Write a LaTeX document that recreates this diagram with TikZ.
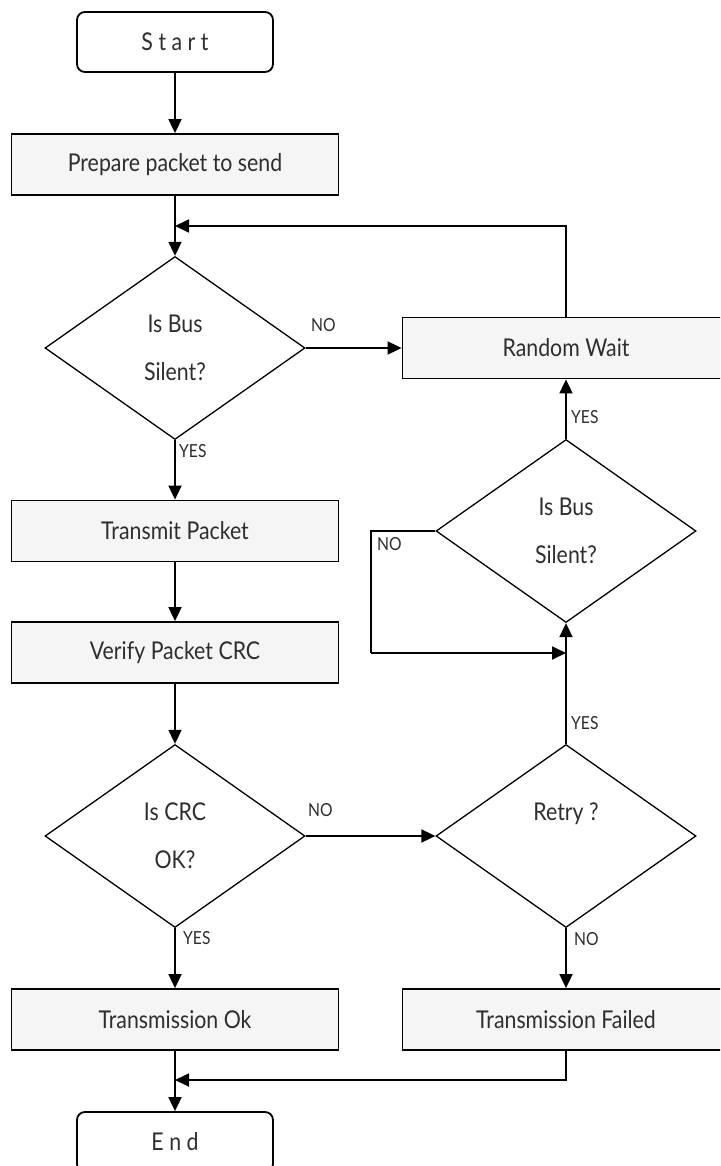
\documentclass[tikz,border=0pt]{standalone}
\usepackage{fontspec}
\setmainfont{Lato}[FakeStretch=0.87]
\usetikzlibrary{arrows.meta,shapes.geometric}
\begin{document}
\begin{tikzpicture}[x=1pt,y=-1pt,
  txt/.style={text=black!82, font=\fontsize{24.5}{48}\selectfont},
  term/.style={txt, draw, line width=1.8pt, rounded corners=8pt, minimum width=196pt, minimum height=60pt, inner sep=0pt},
  proc/.style={txt, draw, line width=1.8pt, fill=black!4, minimum width=327pt, minimum height=61pt, inner sep=0pt},
  cond/.style={txt, draw, line width=1.3pt, diamond, minimum width=260pt, minimum height=183pt, inner sep=0pt, align=center},
  flow/.style={line width=1.8pt, -{Triangle[length=14pt,width=13pt]}},
  lbl/.style={text=black!82, font=\fontsize{18}{20}\selectfont, inner sep=0pt, anchor=west}
]
\useasboundingbox (0,0) rectangle (720,1166);
\clip (0,0) rectangle (720,1166);
\fill[white] (0,0) rectangle (720,1166);

% left column
\node[term] (start) at (175,42) {S t a r t};
\node[proc] (prep) at (175,164.5) {Prepare packet to send};
\node[cond] (d1) at (175,348) {Is Bus\\Silent?};
\node[proc] (tp) at (175,531) {Transmit Packet};
\node[proc] (vp) at (175,652.5) {Verify Packet CRC};
\node[cond] (d4) at (175,836) {Is CRC\\OK?};
\node[proc] (tok) at (175,1019.5) {Transmission Ok};
\node[term] (end) at (175,1142) {E n d};

% right column
\node[proc] (rw) at (566,348) {Random Wait};
\node[cond] (d2) at (566,531) {Is Bus\\Silent?};
\node[cond] (d3) at (566,836) {Retry ?\\\mbox{}};
\node[proc] (tf) at (566,1019.5) {Transmission Failed};

% junction points of the loops
\coordinate (jtop) at (175,226);
\coordinate (jleft) at (371,653);
\coordinate (jin) at (566,653);
\coordinate (jend) at (175,1080);

% main flow
\draw[flow] (start) -- (prep);
\draw[flow] (prep) -- (d1);
\draw[flow] (d1) -- (tp);
\node[lbl] (y1) at (179,451) {YES};
\draw[flow] (tp) -- (vp);
\draw[flow] (vp) -- (d4);
\draw[flow] (d4) -- (tok);
\node[lbl] (y4) at (183,938) {YES};
\draw[flow] (tok) -- (end);

% bus busy: wait and retry
\draw[flow] (d1.east) -- (rw.west);
\node[lbl] (n1) at (311,325) {NO};
\draw[flow] (rw.north) |- (jtop);

% CRC failure branch
\draw[flow] (d4.east) -- (d3.west);
\node[lbl] (n4) at (308,810) {NO};
\draw[flow] (d3.south) -- (tf.north);
\node[lbl] (n3) at (574,939) {NO};
\draw[flow] (d3.north) -- (d2.south);
\node[lbl] (y3) at (571,723) {YES};
\draw[flow] (d2.north) -- (rw.south);
\node[lbl] (y2) at (571,417) {YES};
\draw[line width=1.8pt] (d2.west) -- (371,531) -- (jleft);
\draw[flow] (jleft) -- (jin);
\node[lbl] (n2) at (377,544) {NO};
\draw[flow] (tf.south) |- (jend);
\end{tikzpicture}
\end{document}
